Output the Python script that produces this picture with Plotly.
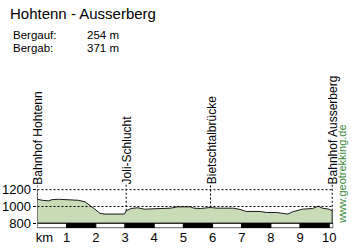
import plotly.graph_objects as go
import numpy as np

# ---- data ----
title_text = "Hohtenn - Ausserberg"
stats_labels = ["Bergauf:", "Bergab:"]
stats_values = ["254 m", "371 m"]

km = [0, 0.16, 0.38, 0.5, 0.72, 1.06, 1.4, 1.63, 1.8, 1.97, 2.14, 2.31, 2.98, 3.04,
      3.21, 3.43, 3.66, 4.0, 4.23, 4.57, 4.79, 5.24, 5.36, 5.58, 5.75, 5.92, 6.15,
      6.71, 6.94, 7.16, 7.62, 7.84, 8.18, 8.58, 8.75, 9.08, 9.42, 9.63, 9.76, 9.99, 10.1]
elev = [1086, 1074, 1067, 1082, 1086, 1082, 1074, 1055, 1015, 968, 918, 910, 910, 949,
        976, 985, 968, 968, 976, 980, 996, 996, 980, 976, 980, 988, 980,
        980, 965, 941, 941, 929, 929, 910, 937, 968, 976, 1004, 980, 968, 949]

waypoint_names = ["Bahnhof Hohtenn", "Joli-Schlucht", "Bietschtalbrücke", "Bahnhof Ausserberg"]
waypoint_km = [0.0, 3.04, 5.93, 10.1]

y_ticks = [800, 1000, 1200]
grid_levels = [1000, 1200]
x_tick_vals = [0.24, 1, 2, 3, 4, 5, 6, 7, 8, 9, 10]
x_tick_text = ["km", "1", "2", "3", "4", "5", "6", "7", "8", "9", "10"]
credit = "www.geotrekking.de"

W, H = 352, 250
FONT = "Liberation Sans, Arial, sans-serif"
base = 800
x_max = 10.135
y_range = [741.2, 2752.9]

fig = go.Figure()
fig.add_trace(go.Scatter(
    x=km + [km[-1], km[0]], y=elev + [base, base],
    mode="lines", fill="toself", fillcolor="#c8dcb8",
    line=dict(color="#1a1a1a", width=1), hoverinfo="skip", showlegend=False))

shapes = []
# dotted horizontal levels
for lv in grid_levels:
    shapes.append(dict(type="line", xref="x", yref="y", x0=0, x1=km[-1], y0=lv, y1=lv,
                       line=dict(color="black", width=1, dash="2px,2px"), layer="above"))
# left axis line
shapes.append(dict(type="line", xref="x", yref="y", x0=0, x1=0, y0=base, y1=1200,
                   line=dict(color="black", width=1), layer="above"))
# waypoint lines
for name, k in zip(waypoint_names, waypoint_km):
    e = float(np.interp(k, km, elev))
    shapes.append(dict(type="line", xref="x", yref="y", x0=k, x1=k, y0=e, y1=1272,
                       line=dict(color="black", width=1, dash="2px,2px"), layer="above"))
# km scale bar
i = 0
while i < x_max:
    x1 = min(i + 1, x_max)
    shapes.append(dict(type="rect", xref="x", yref="y", x0=i, x1=x1, y0=744, y1=800,
                       fillcolor="black" if i % 2 == 1 else "white",
                       line=dict(color="black", width=1), layer="above"))
    i += 1

annotations = []
annotations.append(dict(text=title_text, xref="paper", yref="paper", x=6 / W, y=1 - 14 / H,
                        xanchor="left", yanchor="middle", showarrow=False,
                        font=dict(size=15, color="black", family=FONT)))
for j, (lab, val) in enumerate(zip(stats_labels, stats_values)):
    yc = 1 - (35.5 + j * 13.5) / H
    annotations.append(dict(text=lab, xref="paper", yref="paper", x=10 / W, y=yc,
                            xanchor="left", yanchor="middle", showarrow=False, borderpad=0,
                            font=dict(size=11.5, color="black", family=FONT)))
    annotations.append(dict(text=val, xref="paper", yref="paper", x=85 / W, y=yc,
                            xanchor="left", yanchor="middle", showarrow=False, borderpad=0,
                            font=dict(size=11.5, color="black", family=FONT)))
for name, k in zip(waypoint_names, waypoint_km):
    annotations.append(dict(text=name, xref="x", yref="y", x=k, y=1200, xshift=1, yshift=4,
                            xanchor="center", yanchor="bottom", textangle=-90, showarrow=False,
                            borderpad=0,
                            font=dict(size=12, color="black", family=FONT)))
annotations.append(dict(text=credit, xref="paper", yref="paper", x=345 / W, y=1 - 228 / H,
                        xanchor="center", yanchor="bottom", textangle=-90, showarrow=False,
                        borderpad=0,
                        font=dict(size=11, color="#3a8a3a", family=FONT)))

fig.update_layout(
    width=W, height=H, margin=dict(l=0, r=0, t=0, b=0),
    paper_bgcolor="white", plot_bgcolor="white",
    shapes=shapes, annotations=annotations,
    xaxis=dict(domain=[36 / W, 336 / W], range=[0, x_max], showgrid=False, zeroline=False,
               showline=False, tickvals=x_tick_vals, ticktext=x_tick_text, ticks="",
               tickfont=dict(size=13, color="black", family=FONT), fixedrange=True),
    yaxis=dict(domain=[19 / H, 190 / H], range=y_range, showgrid=False, zeroline=False,
               showline=False, tickvals=y_ticks, ticks="outside", ticklen=3, tickcolor="black",
               tickfont=dict(size=13, color="black", family=FONT), fixedrange=True),
)

fig.write_html("out.html")
